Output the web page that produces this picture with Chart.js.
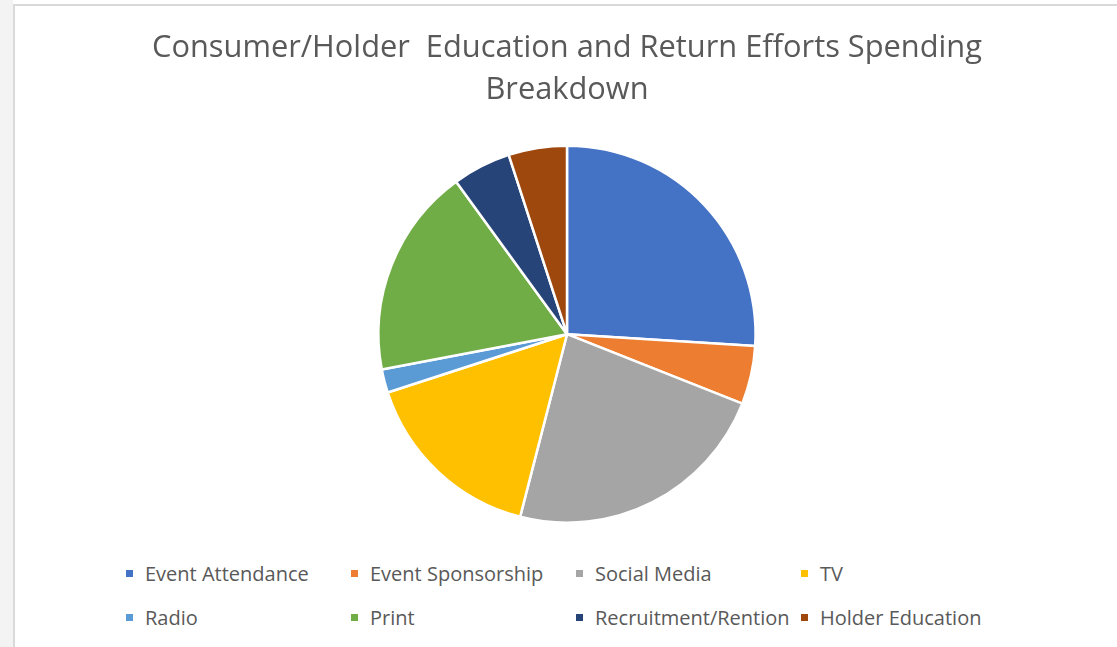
<!DOCTYPE html>
<html>
<head>
<meta charset="utf-8">
<script src="https://cdn.jsdelivr.net/npm/chart.js@4"></script>
<style>
  body { margin: 0; background: #fff; width: 1117px; height: 647px; overflow: hidden; position: relative; }
  .side { position: absolute; left: 0; top: 0; width: 13px; height: 647px; background: #f3f3f3; }
  .frame {
    position: absolute; left: 13px; top: 4px; width: 1104px; height: 643px;
    border-left: 2px solid #d9d9d9; border-top: 2px solid #d9d9d9; background: #fff;
  }
  .chartBox { position: absolute; left: 1px; top: 0; width: 1102px; height: 518px; }
  #legend {
    position: absolute; left: 111px; top: 553px;
    display: grid; grid-template-columns: repeat(4, 225px); row-gap: 16px;
    font-family: "Open Sans", sans-serif; font-size: 20px; color: #595959;
  }
  #legend div { display: flex; align-items: center; height: 28px; white-space: nowrap; }
  #legend span.box { width: 7px; height: 7px; margin-right: 12px; display: inline-block; }
</style>
</head>
<body>
<div class="side"></div>
<div class="frame">
  <div class="chartBox"><canvas id="spendChart"></canvas></div>
  <div id="legend"></div>
</div>
<script>
const categories = ['Event Attendance', 'Event Sponsorship', 'Social Media', 'TV',
  'Radio', 'Print', 'Recruitment/Rention', 'Holder Education'];
const spending = [26, 5, 23, 16, 2, 18, 5, 5];
const sliceColors = ['#4472C4', '#ED7D31', '#A5A5A5', '#FFC000',
  '#5B9BD5', '#70AD47', '#264478', '#9E480E'];
const titleLines = ['Consumer/Holder  Education and Return Efforts Spending', 'Breakdown'];

const chart = new Chart(document.getElementById('spendChart'), {
  type: 'pie',
  data: {
    labels: categories,
    datasets: [{
      data: spending,
      backgroundColor: sliceColors,
      borderColor: '#ffffff',
      borderWidth: 2.5
    }]
  },
  options: {
    responsive: true,
    maintainAspectRatio: false,
    animation: false,
    layout: { padding: 0 },
    plugins: {
      legend: { display: false },
      tooltip: { enabled: false },
      title: {
        display: true,
        text: titleLines,
        color: '#595959',
        font: { family: '"Open Sans", sans-serif', size: 30.8, weight: 'normal', lineHeight: 1.37 },
        padding: { top: 21, bottom: 33 }
      }
    }
  }
});

// legend as fixed columns, like the original
const legendEl = document.getElementById('legend');
chart.data.labels.forEach((label, i) => {
  const item = document.createElement('div');
  item.innerHTML = `<span class="box" style="background:${sliceColors[i]}"></span>${label}`;
  legendEl.appendChild(item);
});
</script>
</body>
</html>
